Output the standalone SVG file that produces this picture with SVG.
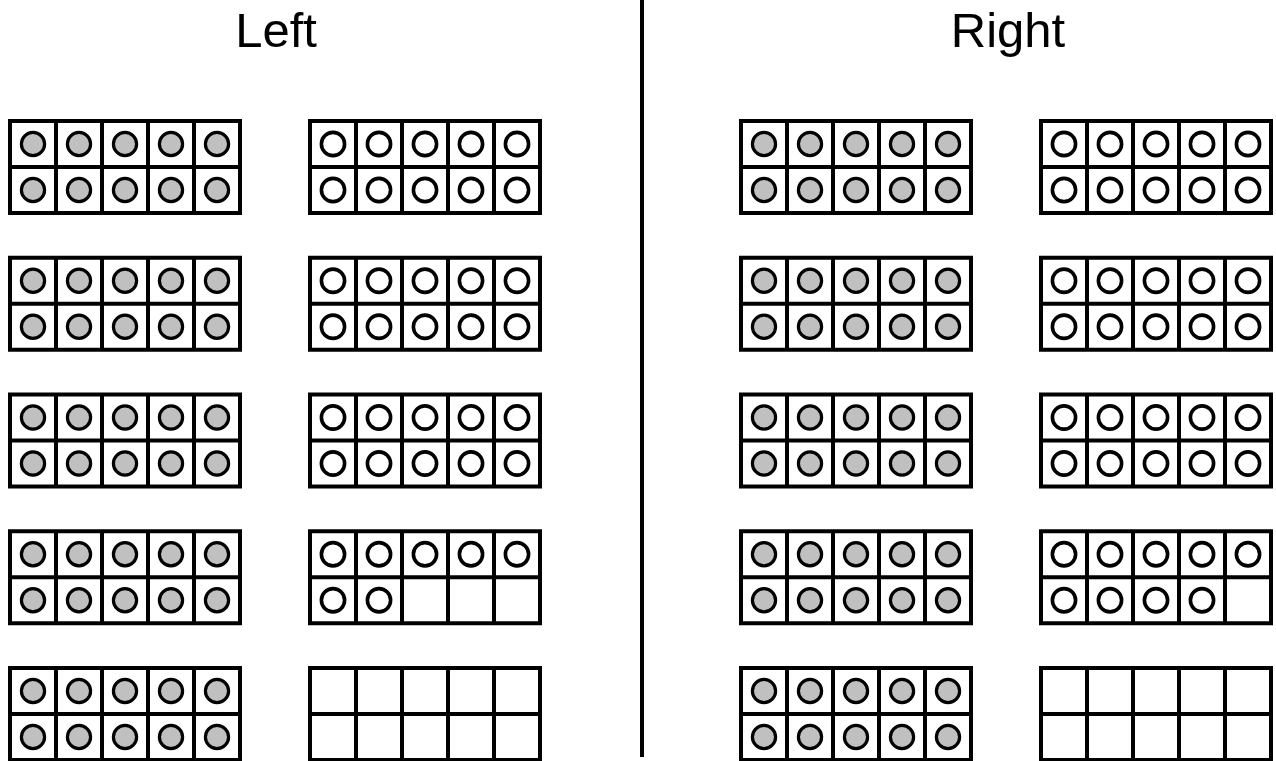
<svg xmlns="http://www.w3.org/2000/svg" xmlns:xlink="http://www.w3.org/1999/xlink" width="1276" height="761" viewBox="0 0 1276 761">
<style>
.grid{fill:#ffffff;stroke:#000000;stroke-width:4}
.gl{stroke:#000000;stroke-width:4;fill:none}
.gc{fill:#c0c0c0;stroke:#000000;stroke-width:3.2}
.oc{fill:#ffffff;stroke:#000000;stroke-width:3.6}
.title{font-family:"Liberation Sans",Arial,sans-serif;font-size:49px;fill:#000000;text-anchor:middle}
</style>
<defs>
<g id="grid">
<rect class="grid" x="0" y="0" width="230" height="92"/>
<path class="gl" d="M46 0V92M92 0V92M138 0V92M184 0V92M0 46H230"/>
</g>
<circle id="g" class="gc" r="11.6"/>
<circle id="o" class="oc" r="11.6"/>
<g id="grey10">
<use href="#grid"/>
<use href="#g" x="23" y="23"/><use href="#g" x="69" y="23"/><use href="#g" x="115" y="23"/><use href="#g" x="161" y="23"/><use href="#g" x="207" y="23"/>
<use href="#g" x="23" y="69"/><use href="#g" x="69" y="69"/><use href="#g" x="115" y="69"/><use href="#g" x="161" y="69"/><use href="#g" x="207" y="69"/>
</g>
<g id="open5">
<use href="#o" x="23" y="23"/><use href="#o" x="69" y="23"/><use href="#o" x="115" y="23"/><use href="#o" x="161" y="23"/><use href="#o" x="207" y="23"/>
</g>
<g id="open10">
<use href="#grid"/>
<use href="#open5"/>
<use href="#open5" y="46"/>
</g>
</defs>
<rect width="1276" height="761" fill="#ffffff"/>
<g id="titles">
<text class="title" x="276" y="47">Left</text>
<text class="title" x="1008" y="47">Right</text>
</g>
<g id="divider"><line x1="642" y1="0" x2="642" y2="757" stroke="#000000" stroke-width="4"/></g>
<g id="left">
<g id="L1a" transform="translate(10,121)"><use href="#grey10"/></g>
<g id="L2a" transform="translate(10,257.75)"><use href="#grey10"/></g>
<g id="L3a" transform="translate(10,394.5)"><use href="#grey10"/></g>
<g id="L4a" transform="translate(10,531.25)"><use href="#grey10"/></g>
<g id="L5a" transform="translate(10,668)"><use href="#grey10"/></g>
<g id="L1b" transform="translate(310,121)"><use href="#open10"/></g>
<g id="L2b" transform="translate(310,257.75)"><use href="#open10"/></g>
<g id="L3b" transform="translate(310,394.5)"><use href="#open10"/></g>
<g id="L4b" transform="translate(310,531.25)"><use href="#grid"/><use href="#open5"/><use href="#o" x="23" y="69"/><use href="#o" x="69" y="69"/></g>
<g id="L5b" transform="translate(310,668)"><use href="#grid"/></g>
</g>
<g id="right">
<g id="R1a" transform="translate(741,121)"><use href="#grey10"/></g>
<g id="R2a" transform="translate(741,257.75)"><use href="#grey10"/></g>
<g id="R3a" transform="translate(741,394.5)"><use href="#grey10"/></g>
<g id="R4a" transform="translate(741,531.25)"><use href="#grey10"/></g>
<g id="R5a" transform="translate(741,668)"><use href="#grey10"/></g>
<g id="R1b" transform="translate(1041,121)"><use href="#open10"/></g>
<g id="R2b" transform="translate(1041,257.75)"><use href="#open10"/></g>
<g id="R3b" transform="translate(1041,394.5)"><use href="#open10"/></g>
<g id="R4b" transform="translate(1041,531.25)"><use href="#grid"/><use href="#open5"/><use href="#o" x="23" y="69"/><use href="#o" x="69" y="69"/><use href="#o" x="115" y="69"/><use href="#o" x="161" y="69"/></g>
<g id="R5b" transform="translate(1041,668)"><use href="#grid"/></g>
</g>
</svg>
